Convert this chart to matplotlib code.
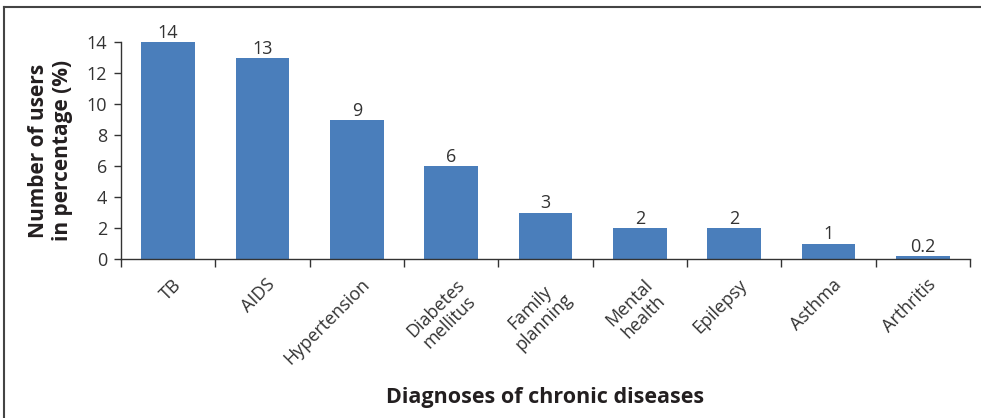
import matplotlib.pyplot as plt
import numpy as np
from matplotlib.lines import Line2D

# ==== Data ====
categories = ["TB", "AIDS", "Hypertension", "Diabetes\nmellitus", "Family\nplanning",
              "Mental\nhealth", "Epilepsy", "Asthma", "Arthritis"]
values = [14, 13, 9, 6, 3, 2, 2, 1, 0.2]
value_labels = ["14", "13", "9", "6", "3", "2", "2", "1", "0.2"]
yticks = [0, 2, 4, 6, 8, 10, 12, 14]

plt.rcParams['font.family'] = ['Open Sans', 'DejaVu Sans']
text_color = "#231f20"
bar_color = "#4a7ebb"

fig = plt.figure(figsize=(9.81, 4.18), dpi=100)
ax = fig.add_axes([121 / 981, 1 - 259 / 418, (970 - 121) / 981, (259 - 42) / 418])

x = np.arange(len(categories))
bars = ax.bar(x, values, width=0.57, color=bar_color, zorder=2)

for b, lab in zip(bars, value_labels):
    ax.annotate(lab, (b.get_x() + b.get_width() / 2, b.get_height()),
                xytext=(0, 0), textcoords="offset points",
                ha="center", va="bottom", fontsize=13, color="#333333")

ax.set_xlim(-0.5, len(categories) - 0.5)
ax.set_ylim(0, 14)
ax.set_yticks(yticks)
ax.tick_params(axis="y", labelsize=13, length=5, width=1, colors="#333333", pad=5)

# major ticks at category centers (labels), minor ticks at category boundaries
ax.set_xticks(x + 0.04)
ax.set_xticklabels(categories, rotation=45, ha="right", rotation_mode="anchor",
                   multialignment="center", fontsize=13, color="#333333",
                   linespacing=1.15)
ax.set_xticks(np.arange(-0.5, len(categories)), minor=True)
ax.tick_params(axis="x", which="major", length=0, pad=12)
ax.tick_params(axis="x", which="minor", length=6, width=1, color="#333333")

for s in ["top", "right"]:
    ax.spines[s].set_visible(False)
for s in ["left", "bottom"]:
    ax.spines[s].set_color("#333333")
    ax.spines[s].set_linewidth(1)

ax.set_ylabel("Number of users\nin percentage (%)", fontsize=15, fontweight="bold",
              color=text_color, labelpad=10, linespacing=1.15)
ax.set_xlabel("Diagnoses of chronic diseases", fontsize=15.5, fontweight="bold",
              color=text_color)
ax.xaxis.set_label_coords(0.5, -0.59)

# frame lines on the figure (top and left)
fig.add_artist(Line2D([4 / 981, 4 / 981], [0, 1 - 7 / 418], color="#444444", lw=1.5,
                      transform=fig.transFigure))
fig.add_artist(Line2D([4 / 981, 1], [1 - 7 / 418, 1 - 7 / 418], color="#444444", lw=1.5,
                      transform=fig.transFigure))

fig.savefig("out.png", dpi=100)
